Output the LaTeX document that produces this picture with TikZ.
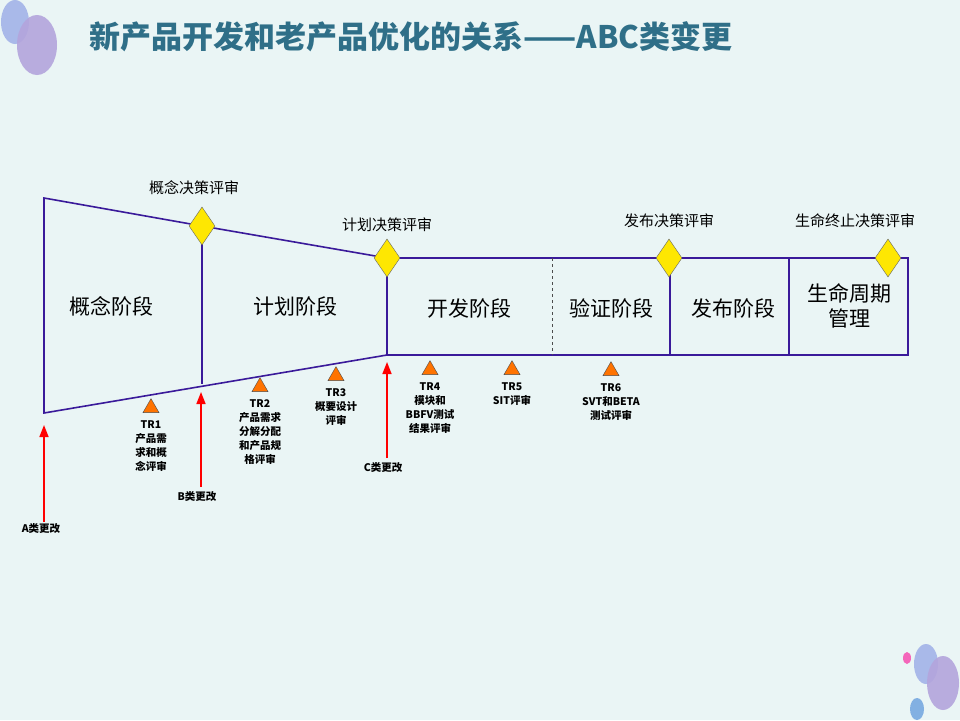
\documentclass[tikz,border=0pt]{standalone}
\usepackage{fontspec}
\setmainfont{Noto Sans CJK SC}
\usetikzlibrary{shapes.geometric,arrows.meta}
\definecolor{bg}{HTML}{EAF5F5}
\definecolor{ln}{HTML}{3A1A9A}
\definecolor{ttl}{HTML}{2F6F88}
\definecolor{lav}{HTML}{B3A5DC}
\definecolor{bl1}{HTML}{A3B3E8}
\tikzset{x=1pt,y=-1pt,
 ph/.style={line width=1.6pt,draw=ln},
 dia/.style={diamond,draw=black!60,fill=yellow!90!orange,minimum width=26pt,minimum height=38pt,inner sep=0pt,aspect=0.7},
 tri/.style={isosceles triangle,shape border rotate=90,isosceles triangle apex angle=60,draw=black!70,fill=orange!90!red,minimum height=14pt,minimum width=16pt,inner sep=0pt},
 phase/.style={font=\fontsize{21}{25}\selectfont,align=center},
 dec/.style={font=\fontsize{15}{17}\selectfont},
 small/.style={font=\bfseries\fontsize{10.5}{14}\selectfont,align=center,anchor=north},
 redar/.style={red,line width=1.6pt,-{Triangle[length=12pt,width=9pt]}}}
\begin{document}
\begin{tikzpicture}
\fill[bg] (0,0) rectangle (960,720);
\useasboundingbox (0,0) rectangle (960,720);
\fill[bl1,opacity=0.9] (15,22) ellipse (14 and 22);
\fill[lav,opacity=0.9] (37,45) ellipse (20 and 30);
\fill[magenta!60!white] (907,658) ellipse (4 and 6);
\fill[bl1,opacity=0.9] (926,664) ellipse (12 and 20);
\fill[lav,opacity=0.9] (943,683) ellipse (16 and 27);
\fill[cyan!60!blue!50!white] (917,709) ellipse (7 and 11);
\node[font=\bfseries\fontsize{31}{35}\selectfont,text=ttl] (title) at (411,37) {新产品开发和老产品优化的关系——ABC类变更};
\coordinate (tl) at (44,198); \coordinate (bl) at (44,413);
\coordinate (d1c) at (202,226); \coordinate (d2c) at (387,258);
\coordinate (br) at (387,355);
\draw[ph] (tl) -- (d1c) -- (d2c) -- (908,258) -- (908,355) -- (br) -- (bl) -- cycle;
\draw[ph] (202,226) -- (202,384);
\draw[ph] (387,258) -- (387,355);
\draw[black!70,dashed] (552,258) -- (552,355);
\draw[ph] (670,258) -- (670,355);
\draw[ph] (789,258) -- (789,355);
\node[dia] (D1) at (d1c) {};
\node[dia] (D2) at (d2c) {};
\node[dia] (D3) at (669,258) {};
\node[dia] (D4) at (888,258) {};
\node[dec] (L1) at (194,188) {概念决策评审};
\node[dec] (L2) at (387,225) {计划决策评审};
\node[dec] (L3) at (669,221) {发布决策评审};
\node[dec] (L4) at (855,221) {生命终止决策评审};
\node[phase] (P1) at (111,306) {概念阶段};
\node[phase] (P2) at (295,306) {计划阶段};
\node[phase] (P3) at (469,308) {开发阶段};
\node[phase] (P4) at (611,308) {验证阶段};
\node[phase] (P5) at (733,308) {发布阶段};
\node[phase] (P6) at (849,306) {生命周期\\管理};
\node[tri] (T1) at (151,408) {}; \node[small] at (151,417) {TR1\\产品需\\求和概\\念评审};
\node[tri] (T2) at (260,387) {}; \node[small] at (260,396) {TR2\\产品需求\\分解分配\\和产品规\\格评审};
\node[tri] (T3) at (336,376) {}; \node[small] at (336,385) {TR3\\概要设计\\评审};
\node[tri] (T4) at (430,370) {}; \node[small] at (430,379) {TR4\\模块和\\BBFV测试\\结果评审};
\node[tri] (T5) at (512,370) {}; \node[small] at (512,379) {TR5\\SIT评审};
\node[tri] (T6) at (611,371) {}; \node[small] at (611,380) {TR6\\SVT和BETA\\测试评审};
\node[small,anchor=center] (A) at (41,529) {A类更改};
\node[small,anchor=center] (B) at (197,497) {B类更改};
\node[small,anchor=center] (C) at (383,468) {C类更改};
\coordinate (Ae) at (44,425); \coordinate (Be) at (201,392); \coordinate (Ce) at (387,362);
\draw[redar] (44,522) -- (Ae);
\draw[redar] (201,487) -- (Be);
\draw[redar] (387,458) -- (Ce);
\end{tikzpicture}
\end{document}
